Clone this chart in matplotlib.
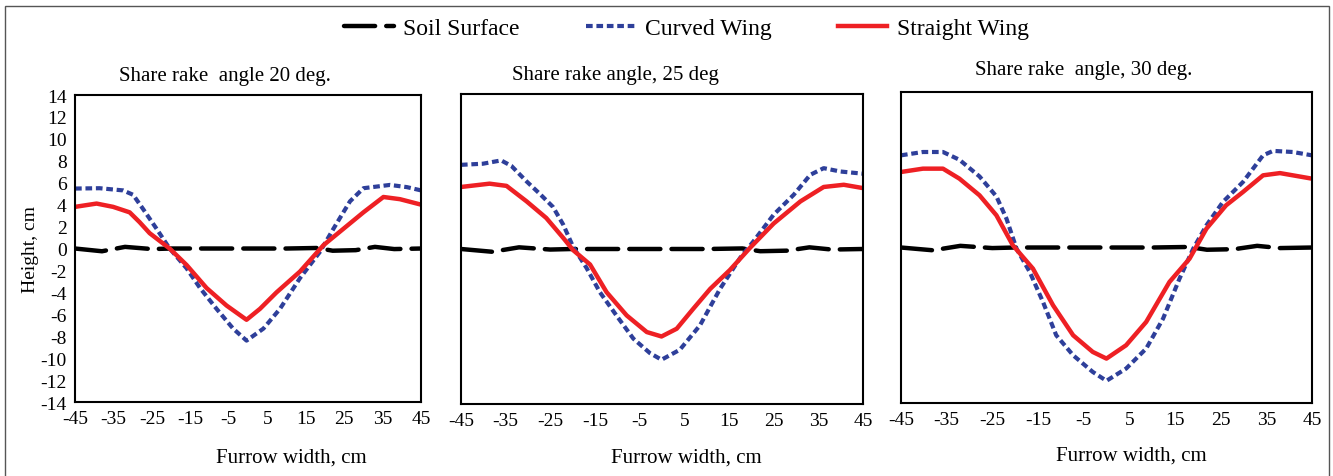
import numpy as np
import matplotlib
matplotlib.use("Agg")
import matplotlib.pyplot as plt
from matplotlib.lines import Line2D
from matplotlib.patches import Rectangle

plt.rcParams['font.family'] = ['Liberation Serif', 'DejaVu Serif']

# panel titles
titles = ["Share rake  angle 20 deg.", "Share rake angle, 25 deg", "Share rake  angle, 30 deg."]

# soil surface (same profile read for all panels)
soil_x = [-45, -38, -32, -25, -20, -10, 0, 10, 18, 22, 28, 33, 38, 45]
soil_y = [0.0, -0.25, 0.15, -0.05, 0.0, 0.0, 0.0, 0.0, 0.05, -0.2, -0.15, 0.15, -0.05, 0.0]

# 20 deg
c20_x = [-45, -38.6, -32.5, -29.9, -27.3, -23.8, -20.4, -16, -12.5, -8.2, -3.9, -0.4, 4, 8.3, 13.5, 18.7, 22.2, 26.5, 30, 36.9, 41.3, 45]
c20_y = [5.47, 5.5, 5.3, 4.9, 3.6, 1.8, 0.0, -1.8, -3.6, -5.5, -7.3, -8.4, -7.3, -5.5, -2.7, -0.3, 1.8, 4.3, 5.5, 5.8, 5.6, 5.3]
s20_x = [-45, -39.4, -35.1, -30.8, -28.2, -25.6, -20.4, -16, -10.8, -5.6, -0.4, 3.1, 7.4, 13.5, 19.6, 24.8, 30, 35.2, 39.5, 45]
s20_y = [3.8, 4.1, 3.8, 3.3, 2.4, 1.4, 0.0, -1.5, -3.6, -5.2, -6.5, -5.5, -4.0, -2.1, 0.3, 1.8, 3.3, 4.7, 4.5, 4.0]

# 25 deg
c25_x = [-45, -40.1, -36, -33.7, -30.3, -27.4, -24.4, -22.1, -19.9, -16.9, -13.9, -10.2, -6.4, -2.7, -0.1, 4, 8.5, 13, 17.5, 20.5, 25, 29.5, 33.2, 36.2, 39.9, 45]
c25_y = [7.6, 7.7, 8.0, 7.5, 6.1, 5.0, 3.8, 2.2, 0.2, -1.7, -3.9, -6.0, -8.1, -9.4, -10.0, -9.1, -6.9, -3.6, -0.8, 0.7, 3.1, 4.9, 6.7, 7.3, 7.0, 6.8]
s25_x = [-45, -38.6, -34.8, -30.3, -25.9, -22.1, -19.9, -16.1, -12.4, -7.9, -3.4, -0.1, 3.3, 7, 10.8, 15.2, 19.7, 25, 31, 36.2, 40.7, 45]
s25_y = [5.6, 5.9, 5.7, 4.3, 2.8, 1.0, -0.1, -1.4, -3.9, -6.0, -7.5, -7.9, -7.2, -5.4, -3.6, -1.9, 0.1, 2.3, 4.3, 5.6, 5.8, 5.5]

# 30 deg
c30_x = [-45, -40.2, -35.8, -32.2, -27.8, -24.1, -21.9, -19.7, -16.8, -13.9, -11, -7.3, -3, 0, 4.3, 8.7, 12.4, 16, 19, 21.9, 25.5, 29.9, 34.3, 36.5, 40.8, 45]
c30_y = [8.3, 8.6, 8.6, 7.9, 6.4, 4.6, 2.6, -0.1, -2.2, -4.9, -7.9, -9.7, -11.2, -12.0, -10.9, -9.1, -6.4, -2.8, -0.1, 2.0, 4.1, 5.9, 8.3, 8.7, 8.6, 8.3]
s30_x = [-45, -40.2, -35.8, -32.2, -27.8, -24.1, -20.5, -16.1, -11.7, -7.3, -3, 0, 4.3, 8.7, 13.8, 18.2, 21.9, 26.2, 29.9, 34.3, 38, 45]
s30_y = [6.8, 7.1, 7.1, 6.2, 4.7, 2.9, 0.2, -1.9, -5.2, -7.9, -9.4, -10.0, -8.8, -6.7, -3.1, -1.0, 1.7, 3.8, 5.0, 6.5, 6.7, 6.2]

curved = [(c20_x, c20_y), (c25_x, c25_y), (c30_x, c30_y)]
straight = [(s20_x, s20_y), (s25_x, s25_y), (s30_x, s30_y)]

xticks = [-45, -35, -25, -15, -5, 5, 15, 25, 35, 45]
yticks = list(range(-14, 15, 2))

fig = plt.figure(figsize=(13.33, 4.77), dpi=100)

# axes rectangles in figure fractions
rects = [
    [0.0563, 0.1551, 0.2596, 0.6436],
    [0.3458, 0.1509, 0.3016, 0.6500],
    [0.6759, 0.1530, 0.3083, 0.6520],
]
# title / xlabel placement (axes fraction), the original is not centred
title_x = [0.434, 0.384, 0.445]
title_pad = [11, 11, 13]
xlab_x = [0.624, 0.560, 0.560]
xlab_y = [-0.179, -0.171, -0.167]

soil_style = dict(color='black', lw=3.2, dashes=(7, 2.5), solid_capstyle='round', dash_capstyle='round')
curved_style = dict(color='#2e3f9a', lw=3.0, dashes=(1.6, 0.9))
straight_style = dict(color='#ee2024', lw=3.2, solid_joinstyle='round')

for i, r in enumerate(rects):
    ax = fig.add_axes(r)
    ax.plot(soil_x, soil_y, **soil_style)
    ax.plot(curved[i][0], curved[i][1], **curved_style)
    ax.plot(straight[i][0], straight[i][1], **straight_style)
    ax.set_xlim(-45, 45)
    ax.set_ylim(-14, 14)
    ax.set_xticks(xticks)
    ax.set_xticklabels([str(t) for t in xticks], fontsize=14)
    ax.tick_params(length=0, pad=6)
    if i == 0:
        ax.set_yticks(yticks)
        ax.set_yticklabels([str(t) for t in yticks], fontsize=14)
        ax.set_ylabel("Height, cm", fontsize=14, labelpad=1)
    else:
        ax.set_yticks([])
    for s in ax.spines.values():
        s.set_linewidth(1.5)
    ax.set_title(titles[i], fontsize=15, pad=title_pad[i], x=title_x[i])
    ax.set_xlabel("Furrow width, cm", fontsize=15, va='center')
    ax.xaxis.set_label_coords(xlab_x[i], xlab_y[i])

handles = [
    Line2D([], [], **soil_style),
    Line2D([], [], **curved_style),
    Line2D([], [], **straight_style),
]
fig.legend(handles, ["Soil Surface", "Curved Wing", "Straight Wing"],
           loc='center', bbox_to_anchor=(0.515, 0.938), ncol=3, frameon=False,
           fontsize=17, handlelength=2.1, columnspacing=2.8, handletextpad=0.4)

# outer border
fig.patches.append(Rectangle((0.004, -0.02), 0.993, 1.005, transform=fig.transFigure,
                             fill=False, edgecolor='#555555', lw=1.0))

fig.savefig("out.png", dpi=100)
